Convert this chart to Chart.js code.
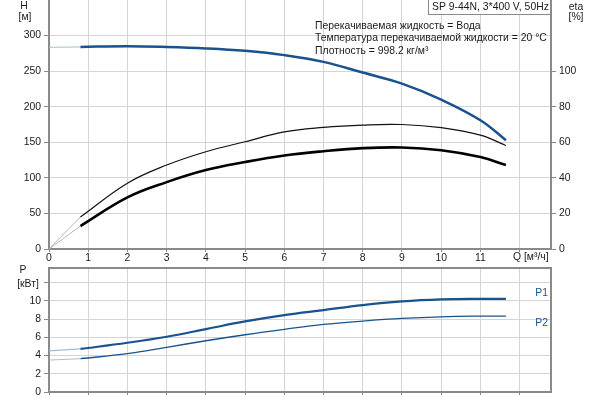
<!DOCTYPE html>
<html>
<head>
<meta charset="utf-8">
<script src="https://cdn.jsdelivr.net/npm/chart.js@4"></script>
<style>
  html, body { margin: 0; padding: 0; background: #fff; }
  .box { position: absolute; left: 0; width: 600px; }
  #top { top: 0; height: 262px; }
  #bottom { top: 262px; height: 138px; }
</style>
</head>
<body>
<div class="box" id="top"><canvas id="curveChart"></canvas></div>
<div class="box" id="bottom"><canvas id="powerChart"></canvas></div>
<script>
// Flow points (m³/h)
const flowQ = [0.8, 2, 3, 4, 5, 6, 7, 8, 9, 10, 11, 11.65];
// Head H [м]
const headH = [284, 285, 284, 282, 278.5, 272.5, 263, 248, 232.5, 210, 181, 153];
// Efficiencies [%]
const etaPump = [18, 37, 47.2, 54.7, 60.3, 65.9, 68.4, 69.7, 70, 68.2, 64, 58.2];
const etaTotal = [12.9, 29, 37.6, 44.4, 48.9, 52.6, 55, 56.7, 57.1, 55.5, 51.7, 47.2];
// Power [кВт]
const powerP1 = [4.72, 5.4, 6.06, 6.9, 7.74, 8.43, 8.98, 9.53, 9.93, 10.15, 10.22, 10.22];
const powerP2 = [3.65, 4.2, 4.9, 5.62, 6.28, 6.87, 7.41, 7.78, 8.07, 8.25, 8.32, 8.32];
// Values at Q = 0 (faint start of each curve)
const zeroH = 283.5;
const zeroEta = 0;
const zeroP1 = 4.52;
const zeroP2 = 3.5;

const xTicks = [0, 1, 2, 3, 4, 5, 6, 7, 8, 9, 10, 11, 12];
const infoLines = [
  'Перекачиваемая жидкость = Вода',
  'Температура перекачиваемой жидкости = 20 °C',
  'Плотность = 998.2 кг/м³'
];

const BLUE = '#19538e';
const FAINT_BLUE = '#a7bbd2';
const FAINT_GREY = '#b4b4b4';
const GRID = '#d4d4d4';
const AXIS = '#8a8a8a';
const FONT = '10.4px "Liberation Sans", Arial, sans-serif';

Chart.defaults.font.family = '"Liberation Sans", Arial, sans-serif';
Chart.defaults.font.size = 10.4;
Chart.defaults.color = '#1a1a1a';
Chart.defaults.animation = false;
Chart.defaults.responsive = true;
Chart.defaults.maintainAspectRatio = false;

const pts = (ys) => flowQ.map((q, i) => ({ x: q, y: ys[i] }));
const lead = (y0, y1) => [{ x: 0, y: y0 }, { x: flowQ[0], y: y1 }];

function line(data, color, width, axis) {
  return {
    data: data,
    borderColor: color,
    borderWidth: width,
    pointRadius: 0,
    fill: false,
    tension: 0.4,
    yAxisID: axis
  };
}

// no extra room for half labels at the ends of the axes
function noPad(s) {
  s.paddingTop = 0;
  s.paddingBottom = 0;
  s.paddingLeft = 0;
  s.paddingRight = 0;
}

function xScale(showLabels, height) {
  return {
    type: 'linear',
    min: 0,
    max: 12.8,
    afterBuildTicks: s => { s.ticks = xTicks.map(v => ({ value: v })); },
    afterFit: s => { s.height = height; noPad(s); },
    grid: { color: GRID, tickColor: AXIS, tickLength: 3 },
    border: { color: AXIS, width: 2 },
    ticks: {
      display: showLabels,
      padding: 0,
      maxRotation: 0,
      autoSkip: false,
      callback: v => (v <= 11 ? v : '')
    }
  };
}

function yScale(pos, max, ticks, grid, label) {
  return {
    position: pos,
    min: 0,
    max: max,
    afterBuildTicks: s => { s.ticks = ticks.map(v => ({ value: v })); },
    afterFit: s => { s.width = 49; noPad(s); },
    grid: Object.assign({ color: GRID, tickColor: AXIS, tickLength: 5 }, grid),
    border: { color: AXIS, width: 2 },
    ticks: { padding: 3, callback: label || (v => v) }
  };
}

// text, frames and labels drawn around the plot
const decorTop = {
  id: 'decorTop',
  afterDraw(chart) {
    const c = chart.ctx;
    c.save();
    c.font = FONT;
    c.fillStyle = '#1a1a1a';
    c.textBaseline = 'middle';
    c.textAlign = 'center';
    c.fillText('H', 24, 6);
    c.fillText('[м]', 25, 17);
    c.fillText('eta', 576, 7);
    c.fillText('[%]', 576, 17);

    c.textAlign = 'left';
    c.fillText('Q [м³/ч]', 513, 257);
    infoLines.forEach((t, i) => c.fillText(t, 315, 26 + i * 12.5));

    // model box
    c.fillStyle = '#fff';
    c.fillRect(428, 0, 123, 14);
    c.strokeStyle = AXIS;
    c.lineWidth = 1;
    c.strokeRect(428.5, -1, 122, 15.5);
    c.fillStyle = '#1a1a1a';
    c.fillText('SP 9-44N, 3*400 V, 50Hz', 432, 7);
    c.restore();
  }
};

const decorBottom = {
  id: 'decorBottom',
  afterDraw(chart) {
    const c = chart.ctx;
    const a = chart.chartArea;
    c.save();
    c.strokeStyle = AXIS;
    c.lineWidth = 2;
    c.beginPath();
    c.moveTo(a.left, a.top);
    c.lineTo(a.right, a.top);
    c.lineTo(a.right, a.bottom);
    c.stroke();

    c.font = FONT;
    c.textBaseline = 'middle';
    c.fillStyle = '#1a1a1a';
    c.textAlign = 'center';
    c.fillText('P', 23, 8);
    c.fillText('[кВт]', 28, 22);
    c.fillStyle = BLUE;
    c.textAlign = 'right';
    c.fillText('P1', 548, 31);
    c.fillText('P2', 548, 61);
    c.restore();
  }
};

new Chart(document.getElementById('curveChart'), {
  type: 'line',
  data: {
    datasets: [
      line(lead(zeroH, headH[0]), FAINT_BLUE, 1, 'y'),
      line(lead(zeroEta, etaPump[0]), FAINT_GREY, 1, 'y1'),
      line(lead(zeroEta, etaTotal[0]), FAINT_GREY, 1, 'y1'),
      line(pts(headH), BLUE, 2.5, 'y'),
      line(pts(etaPump), '#111', 1.2, 'y1'),
      line(pts(etaTotal), '#000', 2.6, 'y1')
    ]
  },
  options: {
    layout: { padding: 0 },
    plugins: { legend: { display: false }, tooltip: { enabled: false } },
    scales: {
      x: xScale(true, 13),
      y: yScale('left', 350, [0, 50, 100, 150, 200, 250, 300], {}),
      y1: yScale('right', 140, [0, 20, 40, 60, 80, 100], { drawOnChartArea: false })
    }
  },
  plugins: [decorTop]
});

new Chart(document.getElementById('powerChart'), {
  type: 'line',
  data: {
    datasets: [
      line(lead(zeroP1, powerP1[0]), FAINT_BLUE, 1.2, 'y'),
      line(lead(zeroP2, powerP2[0]), FAINT_BLUE, 1, 'y'),
      line(pts(powerP1), BLUE, 2.2, 'y'),
      line(pts(powerP2), BLUE, 1.3, 'y')
    ]
  },
  options: {
    layout: { padding: { top: 6, right: 49 } },
    plugins: { legend: { display: false }, tooltip: { enabled: false } },
    scales: {
      x: xScale(false, 8),
      y: yScale('left', 13.6, [0, 2, 4, 6, 8, 10, 12], {}, v => (v <= 10 ? v : ''))
    }
  },
  plugins: [decorBottom]
});
</script>
</body>
</html>
